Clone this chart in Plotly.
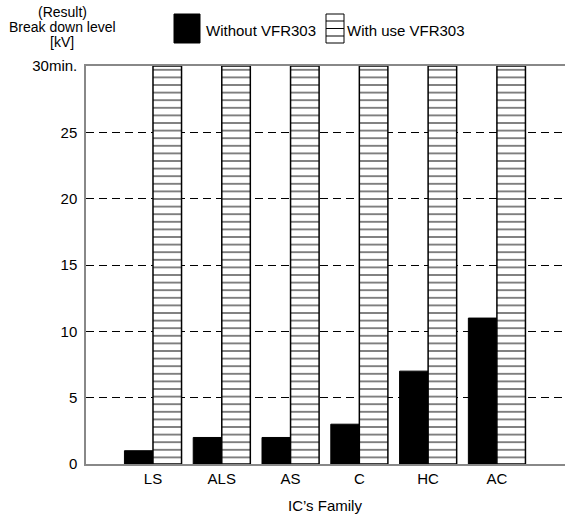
import plotly.graph_objects as go

categories = ["LS", "ALS", "AS", "C", "HC", "AC"]
without_vfr = [1, 2, 2, 3, 7, 11]
with_vfr = [30, 30, 30, 30, 30, 30]
y_tickvals = [0, 5, 10, 15, 20, 25, 30]
y_ticktext = ["0", "5", "10", "15", "20", "25", "30min."]

FONT = "Liberation Sans, Arial, sans-serif"
FS = 15
xpos = list(range(len(categories)))

W, H = 565, 517
PL, PR, PT, PB = 86, 565, 66, 464

fig = go.Figure()
fig.add_trace(go.Bar(
    x=xpos, y=without_vfr, name="Without VFR303",
    marker=dict(color="black", line=dict(color="black", width=1)),
    showlegend=False,
))
fig.add_trace(go.Bar(
    x=xpos, y=with_vfr, name="With use VFR303",
    marker=dict(color="white", line=dict(color="black", width=1.5),
                pattern=dict(shape="-", size=7.6, solidity=0.25,
                             fgcolor="black", bgcolor="white", fillmode="overlay")),
    showlegend=False,
))

fig.update_layout(
    width=W, height=H,
    margin=dict(l=PL, r=W - PR, t=PT, b=H - PB, autoexpand=False),
    paper_bgcolor="white", plot_bgcolor="white",
    barmode="group", bargap=0.17, bargroupgap=0.0,
    font=dict(family=FONT, size=FS, color="black"),
    xaxis=dict(
        tickvals=xpos, ticktext=categories, range=[-0.974, 5.99],
        showgrid=False, zeroline=False, ticks="",
        showline=True, linecolor="#888888", linewidth=2, mirror=True,
    ),
    yaxis=dict(
        range=[0, 30], tickvals=y_tickvals, ticktext=y_ticktext,
        showgrid=True, gridcolor="black", gridwidth=1, griddash="8px,5px",
        zeroline=False, ticks="", ticklen=0, ticklabelstandoff=4,
        showline=True, linecolor="#888888", linewidth=1.5, mirror=False,
    ),
)

def px_x(p):
    return (p - PL) / (PR - PL)

def px_y(p):
    return (PB - p) / (PB - PT)

# y axis title lines
for txt, yy in [("(Result)", 12), ("Break down level", 27), ("[kV]", 42)]:
    fig.add_annotation(xref="paper", yref="paper", x=px_x(62), y=px_y(yy),
                       xanchor="center", yanchor="middle", text=txt, showarrow=False,
                       font=dict(family=FONT, size=14))

# x axis title
fig.add_annotation(xref="paper", yref="paper", x=px_x(325), y=px_y(505), xanchor="center", yanchor="middle",
                   text="IC’s Family", showarrow=False, font=dict(family=FONT, size=FS))

# custom legend
fig.add_shape(type="rect", xref="paper", yref="paper",
              x0=px_x(174), x1=px_x(200), y0=px_y(43), y1=px_y(14),
              fillcolor="black", line=dict(color="black", width=1))
fig.add_shape(type="rect", xref="paper", yref="paper",
              x0=px_x(326), x1=px_x(344), y0=px_y(43), y1=px_y(14),
              fillcolor="white", line=dict(color="black", width=1))
for yy in [21, 28.5, 36]:
    fig.add_shape(type="line", xref="paper", yref="paper",
                  x0=px_x(326), x1=px_x(344), y0=px_y(yy), y1=px_y(yy),
                  line=dict(color="black", width=1))
fig.add_annotation(xref="paper", yref="paper", x=px_x(204), y=px_y(30), xanchor="left", yanchor="middle",
                   text="Without VFR303", showarrow=False, font=dict(family=FONT, size=FS))
fig.add_annotation(xref="paper", yref="paper", x=px_x(345), y=px_y(30), xanchor="left", yanchor="middle",
                   text="With use VFR303", showarrow=False, font=dict(family=FONT, size=FS))

fig.write_html("out.html", config={"displayModeBar": False},
               post_script="document.body.style.margin='0';")
